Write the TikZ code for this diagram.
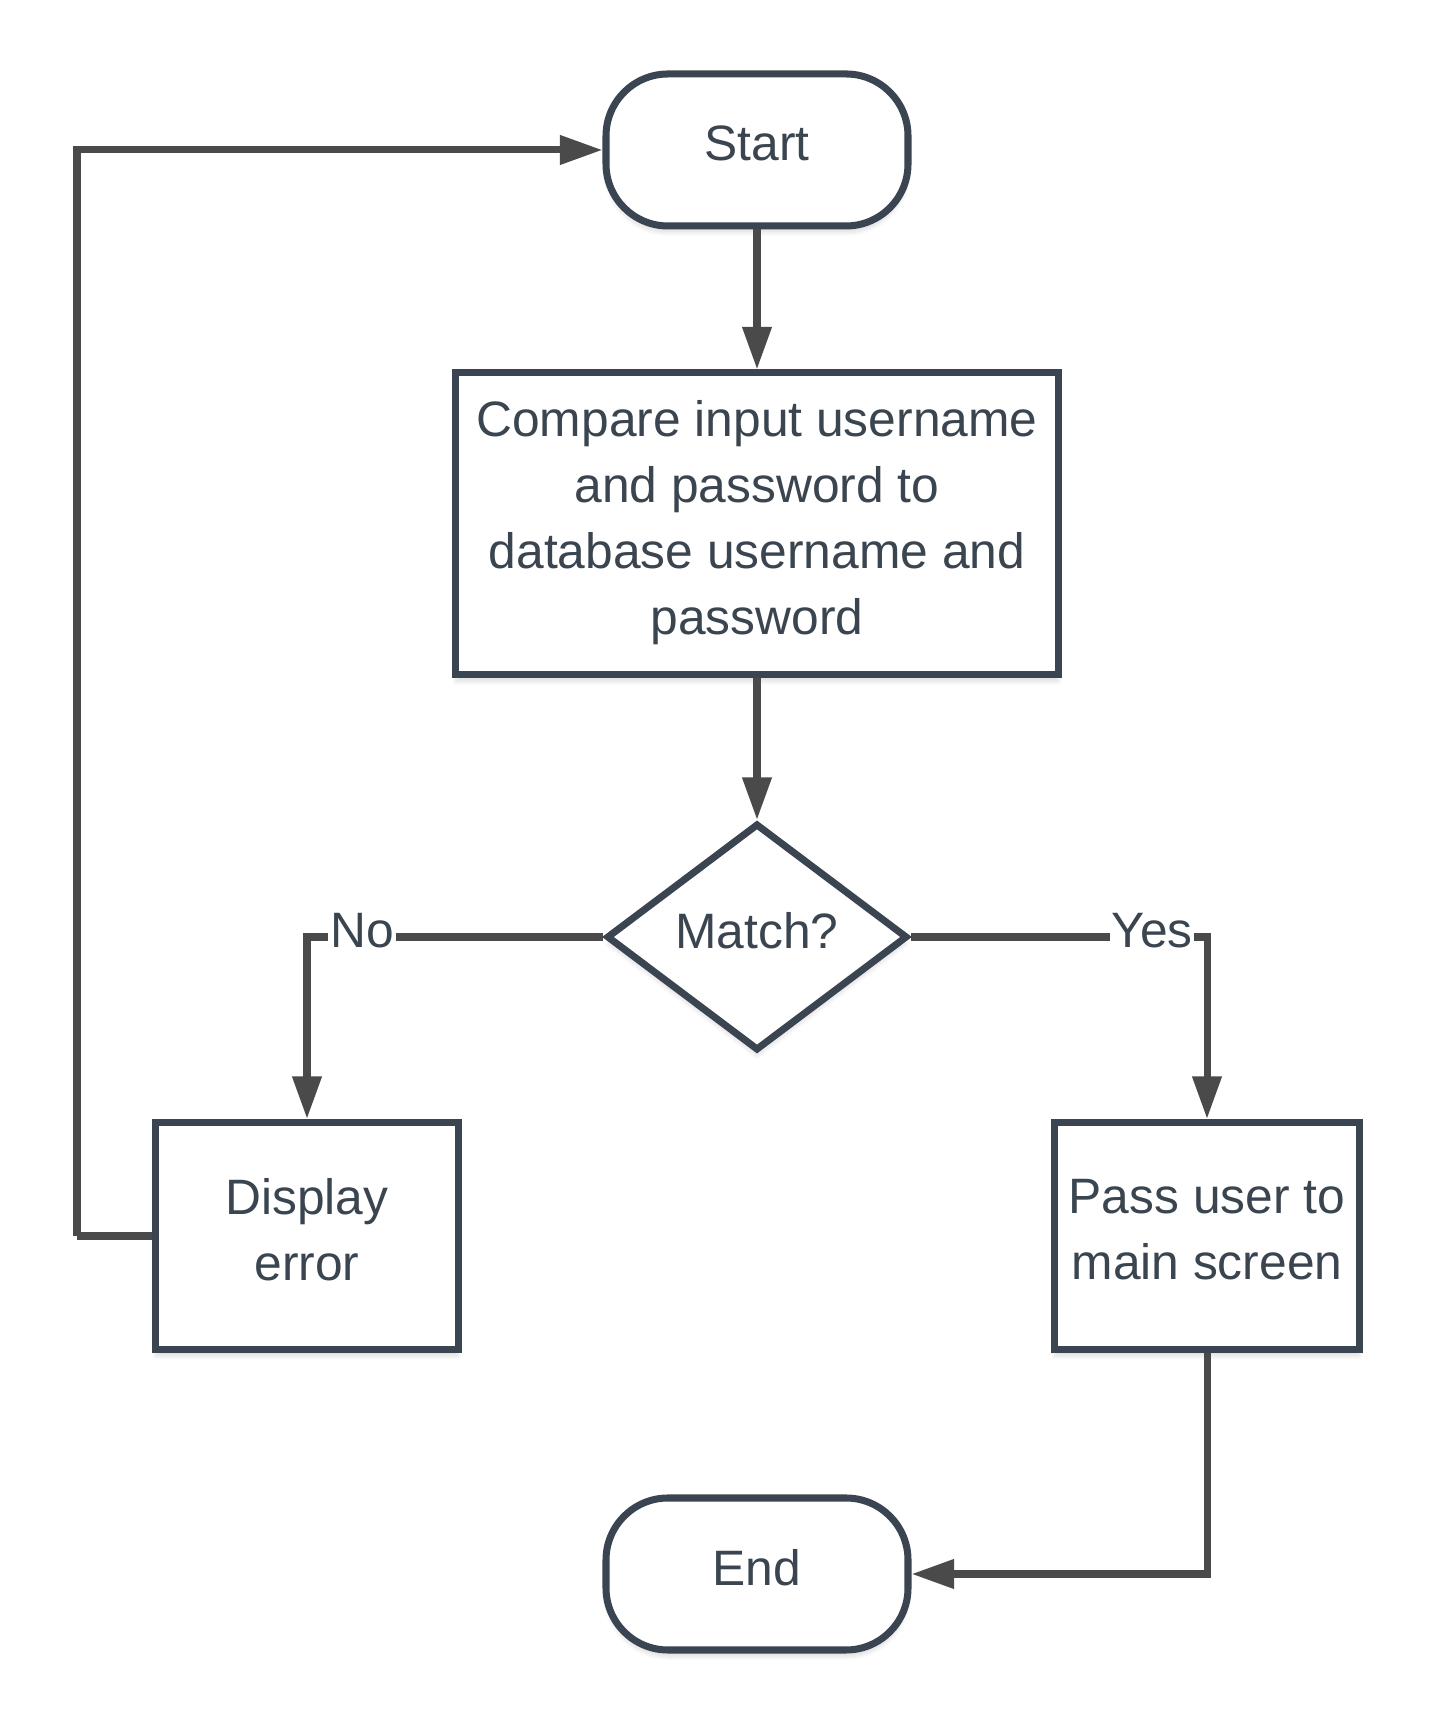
\documentclass[tikz,border=0pt]{standalone}
\usepackage{fontspec}
\setmainfont{Liberation Sans}
\usepackage{xcolor}
\usetikzlibrary{shapes.geometric, arrows.meta, positioning, shadows.blur}
\definecolor{shapeborder}{RGB}{59,69,81}
\definecolor{linkgray}{RGB}{74,74,74}
\definecolor{labeltext}{RGB}{58,69,80}

\begin{document}
\begin{tikzpicture}[
    terminal/.style={rectangle, rounded corners=1.24cm, draw=shapeborder, fill=white, line width=4pt, minimum width=6.04cm, minimum height=3.04cm, text=labeltext, text depth=7.4pt, font=\fontsize{28.3}{37.5}\selectfont, blur shadow={shadow blur steps=8, shadow xshift=0pt, shadow yshift=-4pt, shadow opacity=12}},
    process/.style={rectangle, draw=shapeborder, fill=white, line width=4pt, align=center, text=labeltext, text depth=7.4pt, font=\fontsize{28.3}{37.5}\selectfont, blur shadow={shadow blur steps=8, shadow xshift=0pt, shadow yshift=-4pt, shadow opacity=12}},
    decision/.style={diamond, draw=shapeborder, fill=white, line width=4pt, inner sep=0pt, minimum width=6.02cm, minimum height=4.54cm, text=labeltext, text depth=7.4pt, font=\fontsize{28.3}{37.5}\selectfont, blur shadow={shadow blur steps=8, shadow xshift=0pt, shadow yshift=-4pt, shadow opacity=12}},
    branch/.style={fill=white, inner sep=1pt, text=labeltext, text depth=7.4pt, font=\fontsize{28.3}{37.5}\selectfont},
    arrow/.style={-{Triangle[length=0.85cm, width=0.56cm]}, line width=4pt, draw=linkgray},
    link/.style={line width=4pt, draw=linkgray}
]
    \useasboundingbox (0,0) rectangle (28.66,34.5);

    % Start and check
    \node[terminal] (start) at (15.14, 31.5) {Start};
    \node[process, minimum width=12.06cm, minimum height=6.04cm] (compare) at (15.14, 24.02)
        {Compare input username\\ and password to\\ database username and\\ password};
    \draw[arrow] (start) -- (compare);

    % Decision
    \node[decision] (match) at (15.14, 15.76) {Match?};
    \draw[arrow] (compare) -- (match);

    % Outcomes
    \node[process, minimum width=6.06cm, minimum height=4.54cm] (error) at (6.14, 9.78) {Display\\ error};
    \node[process, minimum width=6.1cm, minimum height=4.54cm] (pass) at (24.14, 9.78) {Pass user to\\ main screen};
    \draw[arrow] (match.west) -| (error.north);
    \draw[arrow] (match.east) -| (pass.north);
    \node[branch] (no) at (7.24, 15.76) {No};
    \node[branch] (yes) at (23.04, 15.76) {Yes};

    % Back to start
    \coordinate (loop) at (1.54, 9.78);
    \draw[link] (error.west) -- (loop);
    \draw[arrow] (loop) |- (start.west);

    % End
    \node[terminal] (end) at (15.14, 3.02) {End};
    \draw[arrow] (pass.south) |- (end.east);
\end{tikzpicture}
\end{document}
